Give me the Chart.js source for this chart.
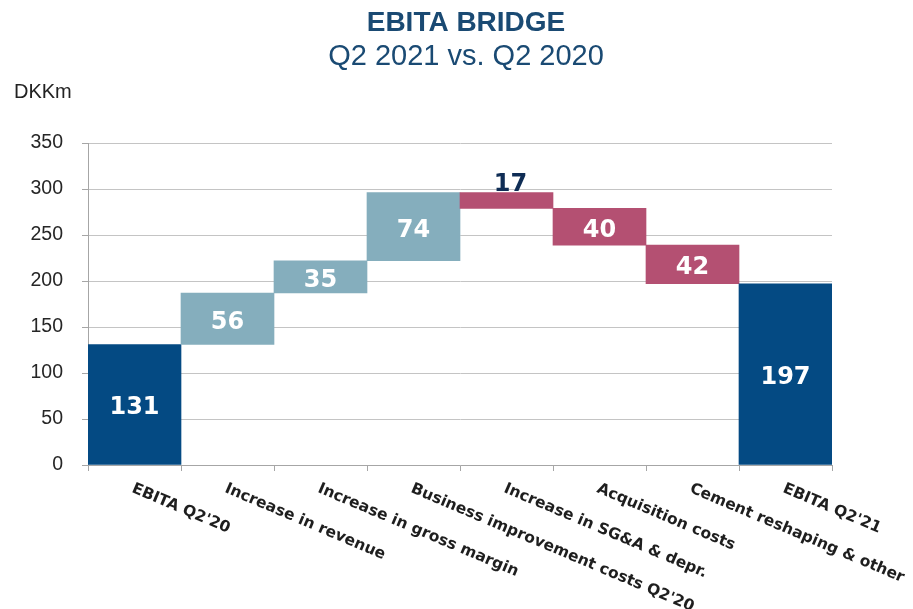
<!DOCTYPE html>
<html>
<head>
<meta charset="utf-8">
<title>EBITA bridge</title>
<script src="https://cdn.jsdelivr.net/npm/chart.js@4.4.1/dist/chart.umd.min.js"></script>
<style>
  body { margin: 0; background: #fff; }
  #bridgeChart { display: block; }
</style>
</head>
<body>
<canvas id="bridgeChart" width="913" height="609"></canvas>
<script>
console.log("EBITA bridge");

// chart data
const categories = [
    "EBITA Q2'20",
    "Increase in revenue",
    "Increase in gross margin",
    "Business improvement costs Q2'20",
    "Increase in SG&A & depr.",
    "Acquisition costs",
    "Cement reshaping & other",
    "EBITA Q2'21",
];
const changes = [131, 56, 35, 74, -17, -40, -42, 197];
const kinds = ["total", "up", "up", "up", "down", "down", "down", "total"];
const yTicks = [0, 50, 100, 150, 200, 250, 300, 350];

const colors = { total: "#044a83", up: "#85aebd", down: "#b45072" };
const titleColor = "#1a4a73";

/** Build floating [start, end] ranges for the waterfall */
function buildRanges() {
    let running = 0;
    return changes.map((value, i) => {
        if (kinds[i] === "total") {
            running = value;
            return [0, value];
        }
        const start = running;
        running += value;
        return [start, running];
    });
}

const ranges = buildRanges();

/** Titles and unit label */
const headerPlugin = {
    id: "header",
    afterDraw(chart) {
        const ctx = chart.ctx;
        ctx.save();
        ctx.textAlign = "center";
        ctx.textBaseline = "alphabetic";
        ctx.fillStyle = titleColor;
        ctx.font = "bold 28px 'Liberation Sans', Arial, sans-serif";
        ctx.fillText("EBITA BRIDGE", 466, 31);
        ctx.font = "29px 'Liberation Sans', Arial, sans-serif";
        ctx.fillText("Q2 2021 vs. Q2 2020", 466, 65);
        ctx.textAlign = "left";
        ctx.fillStyle = "#222";
        ctx.font = "20px 'Liberation Sans', Arial, sans-serif";
        ctx.fillText("DKKm", 14, 98);
        ctx.restore();
    },
};

/** Slanted category labels under the x axis */
const slantLabels = {
    id: "slantLabels",
    afterDraw(chart) {
        const ctx = chart.ctx;
        const xScale = chart.scales.x;
        const top = chart.chartArea.bottom + 16;
        ctx.save();
        ctx.fillStyle = "#1e1e1e";
        ctx.font = "bold 15.5px 'DejaVu Sans', Verdana, sans-serif";
        ctx.textAlign = "left";
        ctx.textBaseline = "top";
        categories.forEach((label, i) => {
            const x = xScale.getPixelForValue(i);
            ctx.save();
            ctx.translate(x + 1, top);
            ctx.rotate((23 * Math.PI) / 180);
            ctx.fillText(label, 0, 0);
            ctx.restore();
        });
        ctx.restore();
    },
};

/** Value labels in (or above) the bars */
const valueLabels = {
    id: "valueLabels",
    afterDatasetsDraw(chart) {
        const ctx = chart.ctx;
        const meta = chart.getDatasetMeta(0);
        ctx.save();
        ctx.font = "bold 24px 'DejaVu Sans', Verdana, sans-serif";
        ctx.textAlign = "center";
        ctx.textBaseline = "alphabetic";
        meta.data.forEach((bar, i) => {
            const text = String(Math.abs(changes[i]));
            const top = Math.min(bar.y, bar.base);
            const bottom = Math.max(bar.y, bar.base);
            if (bottom - top < 30) {
                ctx.fillStyle = "#0f2d55";
                ctx.fillText(text, bar.x + 4, top - 2);
            } else {
                ctx.fillStyle = "#ffffff";
                ctx.fillText(text, bar.x, (top + bottom) / 2 + 10);
            }
        });
        ctx.restore();
    },
};

new Chart(document.getElementById("bridgeChart"), {
    type: "bar",
    data: {
        labels: categories,
        datasets: [
            {
                data: ranges,
                backgroundColor: kinds.map((k) => colors[k]),
                borderWidth: 0,
                barPercentage: 1,
                categoryPercentage: 1,
            },
        ],
    },
    options: {
        responsive: false,
        animation: false,
        layout: { padding: { top: 143, left: 0, right: 81, bottom: 138 } },
        plugins: {
            legend: { display: false },
            tooltip: { enabled: false },
        },
        scales: {
            x: {
                grid: {
                    display: true,
                    drawOnChartArea: false,
                    tickLength: 6,
                    color: "#a6a6a6",
                },
                border: { color: "#a6a6a6" },
                ticks: { display: false },
            },
            y: {
                min: yTicks[0],
                max: yTicks[yTicks.length - 1],
                afterBuildTicks(scale) {
                    scale.ticks = yTicks.map((v) => ({ value: v }));
                },
                afterFit(scale) {
                    scale.width = 88;
                },
                grid: {
                    color: "#c4c4c4",
                    tickColor: "#a6a6a6",
                    tickLength: 6,
                },
                border: { color: "#a6a6a6" },
                ticks: {
                    padding: 19,
                    color: "#262626",
                    font: { family: "'Liberation Sans', Arial, sans-serif", size: 19.5 },
                },
            },
        },
    },
    plugins: [headerPlugin, slantLabels, valueLabels],
});
</script>
</body>
</html>
